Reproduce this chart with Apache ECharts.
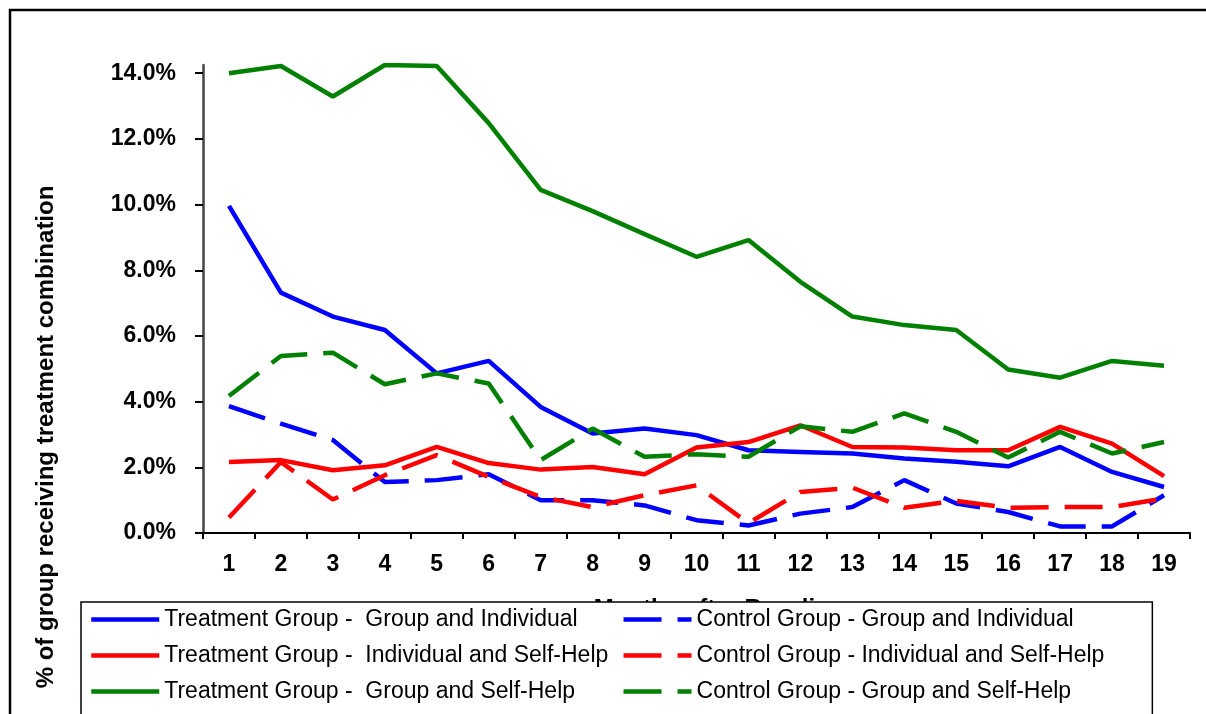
<!DOCTYPE html>
<html>
<head>
<meta charset="utf-8">
<script src="https://cdn.jsdelivr.net/npm/echarts@6/dist/echarts.min.js"></script>
<style>
  html, body { margin: 0; padding: 0; background: #fff; overflow: hidden; }
  #chart { width: 1206px; height: 714px; }
</style>
</head>
<body>
<div id="chart"></div>
<script>
const months = ['1', '2', '3', '4', '5', '6', '7', '8', '9', '10', '11', '12', '13', '14', '15', '16', '17', '18', '19']
const yTicks = [0, 2, 4, 6, 8, 10, 12, 14]

// values in percent
const treatGroupIndiv = [9.96, 7.32, 6.59, 6.18, 4.86, 5.24, 3.84, 3.03, 3.18, 2.98, 2.52, 2.47, 2.42, 2.27, 2.17, 2.03, 2.62, 1.86, 1.40]
const treatIndivSelf = [2.16, 2.22, 1.91, 2.06, 2.62, 2.13, 1.93, 2.01, 1.79, 2.60, 2.77, 3.28, 2.62, 2.60, 2.52, 2.52, 3.23, 2.72, 1.73]
const treatGroupSelf = [14.0, 14.22, 13.29, 14.25, 14.22, 12.48, 10.45, 9.80, 9.10, 8.41, 8.92, 7.65, 6.59, 6.33, 6.18, 4.98, 4.73, 5.24, 5.09]
const ctrlGroupIndiv = [3.86, 3.33, 2.83, 1.55, 1.61, 1.79, 1.00, 1.00, 0.84, 0.39, 0.23, 0.59, 0.79, 1.61, 0.90, 0.64, 0.20, 0.20, 1.15]
const ctrlIndivSelf = [0.47, 2.16, 1.02, 1.76, 2.37, 1.71, 1.10, 0.79, 1.15, 1.45, 0.30, 1.25, 1.38, 0.77, 0.98, 0.77, 0.79, 0.79, 1.05]
const ctrlGroupSelf = [4.17, 5.39, 5.49, 4.53, 4.86, 4.55, 2.22, 3.18, 2.32, 2.40, 2.32, 3.25, 3.08, 3.64, 3.08, 2.30, 3.08, 2.42, 2.77]

const font = '"Liberation Sans", Arial, sans-serif'

function line(name, data, color, dashed) {
  return {
    name: name,
    type: 'line',
    data: data,
    symbol: 'none',
    color: color,
    lineStyle: {
      color: color,
      width: 4.5,
      type: dashed ? [38, 16] : 'solid'
    }
  }
}

const myChart = echarts.init(document.getElementById('chart'), null, { renderer: 'canvas' })
myChart.setOption({
  animation: false,
  backgroundColor: '#fff',
  textStyle: { fontFamily: font },
  grid: {
    left: 203,
    right: 16,
    top: 65,
    bottom: 181
  },
  graphic: [
    {
      type: 'rect',
      silent: true,
      shape: { x: 10, y: 10, width: 1400, height: 900 },
      style: { fill: 'none', stroke: '#000', lineWidth: 2.5 }
    },
    {
      type: 'text',
      silent: true,
      x: 46,
      y: 437,
      rotation: Math.PI / 2,
      style: {
        text: '% of group receiving treatment combination',
        fontSize: 24,
        fontWeight: 'bold',
        fontFamily: font,
        fill: '#000',
        align: 'center',
        verticalAlign: 'middle'
      }
    }
  ],
  xAxis: {
    type: 'category',
    data: months,
    boundaryGap: true,
    name: 'Months after Baseline',
    nameLocation: 'middle',
    nameGap: 64,
    nameTextStyle: {
      fontSize: 24,
      fontWeight: 'bold',
      color: '#000',
      padding: [0, 0, 0, 44]
    },
    axisLine: { lineStyle: { color: '#000', width: 2 } },
    axisTick: { show: true, length: 6, lineStyle: { color: '#000', width: 2 } },
    axisLabel: {
      margin: 20,
      fontSize: 23,
      fontWeight: 'bold',
      color: '#000'
    },
    splitLine: { show: false }
  },
  yAxis: {
    type: 'value',
    min: 0,
    max: 14.25,
    axisLine: { show: true, lineStyle: { color: '#444', width: 2.5 } },
    axisTick: { show: true, length: 8, customValues: yTicks, lineStyle: { color: '#000', width: 2 } },
    axisLabel: {
      customValues: yTicks,
      margin: 27,
      fontSize: 23,
      fontWeight: 'bold',
      color: '#000',
      formatter: v => v.toFixed(1) + '%'
    },
    splitLine: { show: false }
  },
  legend: {
    orient: 'vertical',
    left: 81,
    top: 602,
    height: 112,
    padding: [6, 48, 16, 8],
    itemGap: 13,
    itemWidth: 68,
    itemHeight: 14,
    backgroundColor: '#fff',
    borderColor: '#000',
    borderWidth: 1.5,
    itemStyle: { opacity: 0 },
    lineStyle: { width: 4.5 },
    textStyle: { fontSize: 23, color: '#000', fontFamily: font, lineHeight: 23 },
    data: [
      'Treatment Group -  Group and Individual',
      'Treatment Group -  Individual and Self-Help',
      'Treatment Group -  Group and Self-Help',
      'Control Group - Group and Individual',
      'Control Group - Individual and Self-Help',
      'Control Group - Group and Self-Help'
    ]
  },
  series: [
    line('Treatment Group -  Group and Individual', treatGroupIndiv, '#0000ff', false),
    line('Treatment Group -  Individual and Self-Help', treatIndivSelf, '#ff0000', false),
    line('Treatment Group -  Group and Self-Help', treatGroupSelf, '#008000', false),
    line('Control Group - Group and Individual', ctrlGroupIndiv, '#0000ff', true),
    line('Control Group - Individual and Self-Help', ctrlIndivSelf, '#ff0000', true),
    line('Control Group - Group and Self-Help', ctrlGroupSelf, '#008000', true)
  ]
})
</script>
</body>
</html>
